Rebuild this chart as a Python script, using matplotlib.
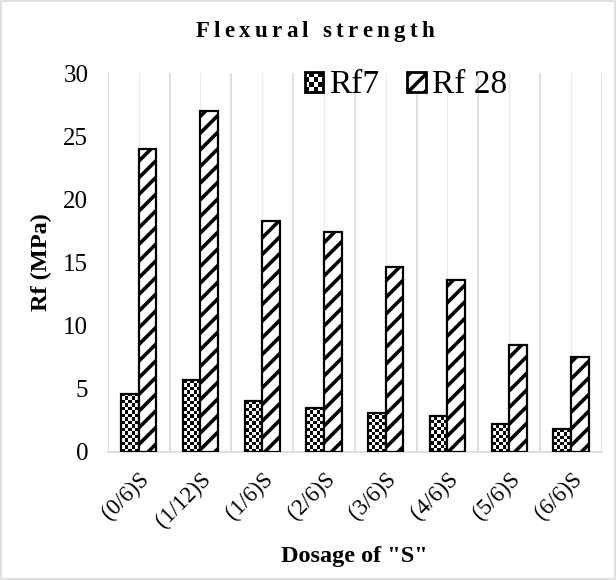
import numpy as np
import matplotlib
matplotlib.use("Agg")
import matplotlib.pyplot as plt
from matplotlib.patches import Patch, Rectangle
from matplotlib.legend_handler import HandlerBase

# Flexural strength at 7 and 28 days for each dosage of "S"
dosages = ["(0/6)S", "(1/12)S", "(1/6)S", "(2/6)S", "(3/6)S", "(4/6)S", "(5/6)S", "(6/6)S"]
rf7 = [4.6, 5.7, 4.0, 3.5, 3.1, 2.8, 2.2, 1.8]
rf28 = [24.0, 27.0, 18.3, 17.4, 14.6, 13.6, 8.5, 7.5]
series_names = ["Rf7", "Rf 28"]
title = "Flexural strength"

plt.rcParams["font.family"] = ["Liberation Serif", "DejaVu Serif"]
plt.rcParams["hatch.linewidth"] = 2.6


class CheckerHandler(HandlerBase):
    # small checkerboard square for the legend
    def create_artists(self, legend, orig_handle, xdescent, ydescent,
                       width, height, fontsize, trans):
        n = 4
        cw, ch = width / n, height / n
        arts = []
        for i in range(n):
            for j in range(n):
                if (i + j) % 2 == 0:
                    arts.append(Rectangle((-xdescent + i * cw, -ydescent + j * ch), cw, ch,
                                          facecolor="black", edgecolor="none", transform=trans))
        arts.append(Rectangle((-xdescent, -ydescent), width, height, fill=False,
                              edgecolor="black", linewidth=2.0, transform=trans))
        return arts


fig = plt.figure(figsize=(6.16, 5.8), dpi=100)
ax = fig.add_axes([0.175, 0.221, 0.802, 0.653])

x = np.arange(len(dosages))
width = 0.285

bars7 = ax.bar(x - width / 2, rf7, width, facecolor="none", edgecolor="black",
               linewidth=1.6, zorder=3)
bars28 = ax.bar(x + width / 2, rf28, width, facecolor="white", edgecolor="black",
                linewidth=1.6, hatch="//", zorder=3)

ax.set_xlim(-0.5, len(dosages) - 0.5)
ax.set_ylim(0, 30)

# checkerboard fill for the 7-day bars, clipped to each bar
fig.canvas.draw()
cell = 3.4  # pixels per checker square
for b in bars7:
    x0, y0 = b.get_x(), b.get_y()
    x1, y1 = x0 + b.get_width(), y0 + b.get_height()
    p0 = ax.transData.transform((x0, y0))
    p1 = ax.transData.transform((x1, y1))
    nx = max(1, int(round((p1[0] - p0[0]) / cell)))
    ny = max(1, int(round((p1[1] - p0[1]) / cell)))
    checker = (np.indices((ny, nx)).sum(axis=0) % 2).astype(float)
    im = ax.imshow(checker, cmap="gray", extent=(x0, x1, y0, y1), aspect="auto",
                   interpolation="nearest", zorder=2.5, origin="lower")
    im.set_clip_path(b)
ax.set_xlim(-0.5, len(dosages) - 0.5)
ax.set_ylim(0, 30)

# vertical gridlines at category edges and centres
for k in range(len(dosages) + 1):
    ax.axvline(k - 0.5, color="#d9d9d9", linewidth=1.2, zorder=1)
for k in range(len(dosages)):
    ax.axvline(k, color="#ececec", linewidth=1.0, zorder=1)

for s in ["top", "right", "left"]:
    ax.spines[s].set_visible(False)
ax.spines["bottom"].set_color("#d9d9d9")
ax.spines["bottom"].set_linewidth(1.2)
ax.tick_params(length=0)

ax.set_yticks(np.arange(0, 31, 5))
ax.tick_params(axis="y", labelsize=18, pad=14)
ax.set_xticks(x)
ax.set_xticklabels(dosages, rotation=45, ha="right", rotation_mode="anchor", fontsize=16.5)
ax.tick_params(axis="x", pad=12)

ax.set_ylabel("Rf (MPa)", fontsize=17.5, fontweight="bold", labelpad=8)
ax.set_xlabel('Dosage of "S"', fontsize=17.5, fontweight="bold", labelpad=10)

# letter-spaced title, laid out one character at a time
renderer = fig.canvas.get_renderer()
tsize = 16.5
tracking = 4.3  # extra pixels between characters
chars = []
for ch in title:
    t = fig.text(0, 0, ch, fontsize=tsize, fontweight="bold", va="baseline", ha="left")
    chars.append(t)
widths = []
for t in chars:
    if t.get_text() == " ":
        widths.append(0.25 * tsize * fig.dpi / 72)
    else:
        widths.append(t.get_window_extent(renderer).width)
total = sum(widths) + tracking * (len(chars) - 1)
cx = 0.511 * fig.bbox.width - total / 2
base_y = 0.937 * fig.bbox.height
for t, w in zip(chars, widths):
    t.set_position((cx / fig.bbox.width, base_y / fig.bbox.height))
    cx += w + tracking

handles = [Patch(facecolor="white", edgecolor="black"),
           Patch(facecolor="white", edgecolor="black", hatch="//", linewidth=2.0)]
ax.legend(handles, series_names, loc="center", bbox_to_anchor=(0.603, 0.968),
          ncol=2, frameon=False, fontsize=24, handlelength=0.55, handleheight=0.55,
          handletextpad=0.18, columnspacing=0.85, borderpad=0.1,
          handler_map={handles[0]: CheckerHandler()})

fig.patches.append(Rectangle((0.002, 0.002), 0.996, 0.996, transform=fig.transFigure,
                             fill=False, edgecolor="#d9d9d9", linewidth=1.2))

fig.savefig("out.png", dpi=100)
